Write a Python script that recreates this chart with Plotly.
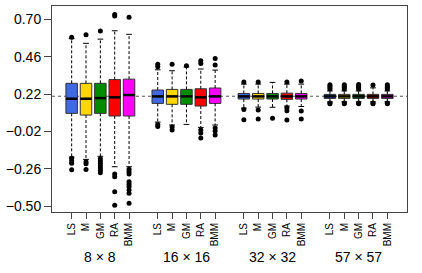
import plotly.graph_objects as go

GROUPS = ["8 × 8", "16 × 16", "32 × 32", "57 × 57"]
METHODS = ["LS", "M", "GM", "RA", "BMM"]
COLORS = ["#4169E1", "#FFD700", "#008B00", "#FF0000", "#FF00FF"]
TRUE_VALUE = 0.206

Q1 = [
    [0.096, 0.085, 0.096, 0.079, 0.079],
    [0.160, 0.154, 0.154, 0.143, 0.160],
    [0.188, 0.188, 0.188, 0.186, 0.188],
    [0.192, 0.192, 0.192, 0.192, 0.192],
]
MED = [
    [0.190, 0.190, 0.194, 0.199, 0.214],
    [0.205, 0.205, 0.205, 0.199, 0.205],
    [0.205, 0.205, 0.205, 0.205, 0.205],
    [0.205, 0.205, 0.205, 0.205, 0.205],
]
Q3 = [
    [0.289, 0.289, 0.289, 0.313, 0.316],
    [0.246, 0.250, 0.250, 0.254, 0.259],
    [0.224, 0.224, 0.224, 0.226, 0.224],
    [0.218, 0.218, 0.218, 0.218, 0.218],
]
LOW = [
    [-0.185, -0.200, -0.180, -0.247, -0.247],
    [0.040, 0.021, 0.025, 0.006, 0.021],
    [0.130, 0.136, 0.135, 0.143, 0.140],
    [0.170, 0.170, 0.170, 0.170, 0.170],
]
HIGH = [
    [0.576, 0.546, 0.573, 0.627, 0.604],
    [0.376, 0.370, 0.394, 0.381, 0.374],
    [0.284, 0.284, 0.295, 0.284, 0.284],
    [0.240, 0.240, 0.240, 0.260, 0.240],
]
OUTLIERS = [
    [
        [0.585, -0.193, -0.209, -0.225, -0.266],
        [0.601, -0.215, -0.228, -0.265],
        [0.625, -0.195, -0.210, -0.225, -0.240, -0.255, -0.270, -0.285],
        [0.732, 0.722, -0.294, -0.311, -0.408, -0.495],
        [0.713, -0.264, -0.279, -0.294, -0.344, -0.360, -0.376, -0.397, -0.418, -0.482],
    ],
    [
        [0.395, 0.412, 0.025, 0.012],
        [0.411, 0.008, -0.011],
        [0.402],
        [0.434, 0.417, -0.011, -0.031, -0.063],
        [0.449, 0.406, 0.002, -0.018, -0.043],
    ],
    [
        [0.297, 0.120, 0.055],
        [0.297, 0.117, 0.060],
        [0.064],
        [0.297, 0.132, 0.113, 0.053],
        [0.304, 0.111, 0.060],
    ],
    [
        [0.252, 0.262, 0.272, 0.280, 0.163, 0.158],
        [0.252, 0.262, 0.272, 0.280, 0.163, 0.158],
        [0.252, 0.262, 0.272, 0.282, 0.163, 0.158],
        [0.278, 0.163, 0.158],
        [0.252, 0.262, 0.272, 0.280, 0.163, 0.158],
    ],
]

BOX_W = 0.8
CAP_W = 0.4

fig = go.Figure()

fig.add_hline(y=TRUE_VALUE, line=dict(color="#555", width=1, dash="3px,3px"), layer="below")

positions = []
wx, wy, cx, cy, mx, my, ox, oy = [], [], [], [], [], [], [], []
for g in range(len(GROUPS)):
    for m in range(len(METHODS)):
        p = g * (len(METHODS) + 1) + m + 1
        positions.append(p)
        wx += [p, p, None, p, p, None]
        wy += [Q3[g][m], HIGH[g][m], None, Q1[g][m], LOW[g][m], None]
        cx += [p - CAP_W / 2, p + CAP_W / 2, None, p - CAP_W / 2, p + CAP_W / 2, None]
        cy += [HIGH[g][m], HIGH[g][m], None, LOW[g][m], LOW[g][m], None]
        mx += [p - BOX_W / 2, p + BOX_W / 2, None]
        my += [MED[g][m], MED[g][m], None]
        for v in OUTLIERS[g][m]:
            ox.append(p)
            oy.append(v)

fig.add_trace(go.Scatter(x=wx, y=wy, mode="lines", line=dict(color="black", width=1, dash="3px,2px"),
                         showlegend=False, hoverinfo="skip"))
fig.add_trace(go.Scatter(x=cx, y=cy, mode="lines", line=dict(color="black", width=1),
                         showlegend=False, hoverinfo="skip"))

for g in range(len(GROUPS)):
    for m in range(len(METHODS)):
        p = g * (len(METHODS) + 1) + m + 1
        fig.add_trace(go.Box(
            x=[p], q1=[Q1[g][m]], median=[MED[g][m]], q3=[Q3[g][m]],
            lowerfence=[Q1[g][m]], upperfence=[Q3[g][m]],
            width=BOX_W, whiskerwidth=0,
            fillcolor=COLORS[m], line=dict(color="#333", width=1),
            showlegend=False, hoverinfo="skip",
        ))

fig.add_trace(go.Scatter(x=mx, y=my, mode="lines", line=dict(color="black", width=2.5),
                         showlegend=False, hoverinfo="skip"))
fig.add_trace(go.Scatter(x=ox, y=oy, mode="markers", marker=dict(color="black", size=5),
                         showlegend=False, hoverinfo="skip"))

tick_labels = METHODS * len(GROUPS)
fig.update_xaxes(
    range=[-0.37, 24.37], tickmode="array", tickvals=positions, ticktext=tick_labels,
    tickangle=-90, ticks="outside", ticklen=6, tickcolor="#444",
    showline=True, linecolor="#444", linewidth=1, mirror=True,
    showgrid=False, zeroline=False,
    tickfont=dict(family="Liberation Sans, Arial, sans-serif", size=10, color="black"),
)
fig.update_yaxes(
    range=[-0.538, 0.786], tickmode="array", tickvals=[-0.50, -0.26, -0.02, 0.22, 0.46, 0.70],
    tickformat=".2f", ticks="outside", ticklen=7, tickcolor="#444",
    showline=True, linecolor="#444", linewidth=1, mirror=True,
    showgrid=False, zeroline=False,
    tickfont=dict(family="Liberation Sans, Arial, sans-serif", size=14, color="black"),
)

for g, name in enumerate(GROUPS):
    center = g * (len(METHODS) + 1) + (len(METHODS) + 1) / 2
    fig.add_annotation(x=center, y=-0.218, xref="x", yref="paper", text=name, showarrow=False,
                       yanchor="middle", xanchor="center",
                       font=dict(family="Liberation Sans, Arial, sans-serif", size=14, color="black"))

fig.update_layout(
    width=422, height=273,
    margin=dict(l=52, r=15, t=6, b=61),
    paper_bgcolor="white", plot_bgcolor="white",
    boxmode="overlay",
)

fig.write_html("out.html", config={"displayModeBar": False},
               post_script="document.body.style.margin='0';")
